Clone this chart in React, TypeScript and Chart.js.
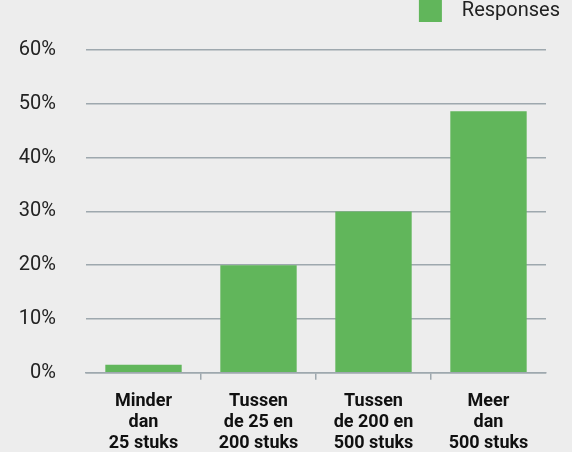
import React, { useEffect, useRef } from "react";
import { Chart, registerables } from "chart.js";

Chart.register(...registerables);

const categories: string[][] = [
  ["Minder", "dan", "25 stuks"],
  ["Tussen", "de 25 en", "200 stuks"],
  ["Tussen", "de 200 en", "500 stuks"],
  ["Meer", "dan", "500 stuks"],
];
const seriesLabel = "Responses";
const responses: number[] = [1.5, 20, 30, 48.6];
const yTicks: number[] = [0, 10, 20, 30, 40, 50, 60];

const BG = "#ededed";
const GREEN = "#61b65b";
const GRID = "#9ea8ae";
const FONT = "Roboto, 'DejaVu Sans', sans-serif";

const legendGap = {
  id: "legendGap",
  beforeInit(chart: any) {
    const origFit = chart.legend.fit;
    chart.legend.fit = function fit() {
      origFit.bind(chart.legend)();
      this.height += 18;
    };
  },
};

export default function App() {
  const ref = useRef<HTMLCanvasElement | null>(null);

  useEffect(() => {
    document.body.style.margin = "0";
    document.body.style.background = BG;
    const canvas = ref.current;
    if (!canvas) return;
    const defaultGen = Chart.defaults.plugins.legend.labels.generateLabels;
    const chart = new Chart(canvas, {
      type: "bar",
      plugins: [legendGap],
      data: {
        labels: categories,
        datasets: [
          {
            label: seriesLabel,
            data: responses,
            backgroundColor: GREEN,
            borderWidth: 0,
            categoryPercentage: 0.8,
            barPercentage: 0.83,
            yAxisID: "y",
          },
        ],
      },
      options: {
        responsive: false,
        maintainAspectRatio: false,
        animation: false,
        layout: { padding: { left: 18, right: 2, top: 0, bottom: 0 } },
        plugins: {
          tooltip: { enabled: false },
          title: { display: false },
          legend: {
            display: true,
            position: "top",
            align: "end",
            labels: {
              boxWidth: 23,
              boxHeight: 23,
              color: "#222",
              padding: 10,
              font: { family: FONT, size: 20 },
              generateLabels: (c: any) =>
                defaultGen(c).map((item: any) => ({ ...item, text: "  " + item.text })),
            },
          },
        },
        scales: {
          x: {
            offset: true,
            border: { display: true, color: GRID, width: 1.5 },
            grid: {
              offset: true,
              drawOnChartArea: false,
              drawTicks: true,
              tickLength: 7,
              color: (ctx: any) =>
                ctx.index === undefined || ctx.index === 0 ? "rgba(0,0,0,0)" : GRID,
              lineWidth: 1.5,
            },
            ticks: {
              color: "#111",
              padding: 11,
              maxRotation: 0,
              autoSkip: false,
              font: { family: FONT, size: 18, weight: "bold", lineHeight: 1.17 },
            },
          },
          y: {
            min: 0,
            max: 60,
            afterBuildTicks: (axis: any) => {
              axis.ticks = yTicks.map((v) => ({ value: v }));
            },
            afterFit: (s: any) => {
              s.width = 68;
            },
            border: { display: false },
            grid: {
              drawTicks: false,
              color: GRID,
              lineWidth: 1.5,
            },
            ticks: {
              color: "#222",
              padding: 30,
              font: { family: FONT, size: 20 },
              callback: (v: any) => v + "%",
            },
          },
          yRight: {
            position: "right",
            display: true,
            grid: { display: false, drawTicks: false },
            border: { display: false },
            ticks: { display: false },
            afterFit: (s: any) => {
              s.width = 24;
            },
          },
        },
      },
    });
    return () => chart.destroy();
  }, []);

  return (
    <div
      style={{
        position: "fixed",
        left: 0,
        top: 0,
        width: 572,
        height: 452,
        overflow: "hidden",
        background: BG,
      }}
    >
      <canvas
        ref={ref}
        width={572}
        height={476}
        style={{ display: "block", marginTop: -11, width: 572, height: 476 }}
      />
    </div>
  );
}
